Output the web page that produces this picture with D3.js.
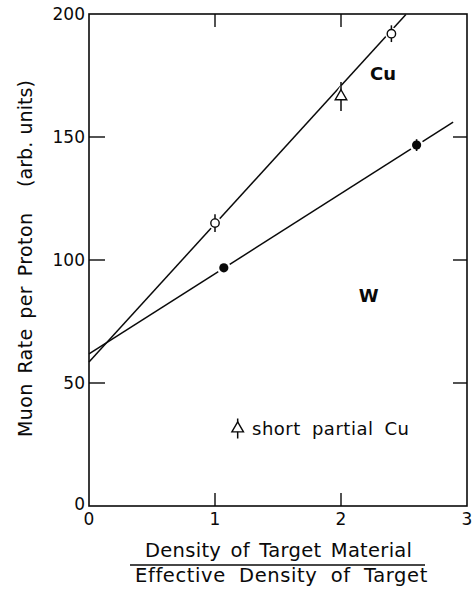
<!DOCTYPE html>
<html>
<head>
<meta charset="utf-8">
<script src="https://cdn.jsdelivr.net/npm/d3@7"></script>
<style>
  html, body { margin: 0; padding: 0; background: #fff; }
  svg { display: block; }
  text { font-family: "DejaVu Sans", "Noto Sans", sans-serif; fill: #0a0a0a; }
</style>
</head>
<body>
<svg id="chart" width="473" height="592"></svg>
<script>
// Measured muon rates (arb. units) vs relative target density
const cuOpen = [ // full-length Cu targets
  { x: 1.00, y: 115.0, err: 3.6 },
  { x: 2.40, y: 192.0, err: 3.4 }
];
const cuShort = [ // short partial Cu target
  { x: 2.00, y: 166.5, err: 5.5 }
];
const wFilled = [ // tungsten targets
  { x: 1.07, y: 96.8, err: 0 },
  { x: 2.60, y: 146.7, err: 2.4 }
];
// Straight-line fits through each material
const fitLines = [
  { name: "Cu", intercept: 58.5, slope: 56.2, xEnd: 2.515, labelX: 2.23, labelY: 173 },
  { name: "W",  intercept: 61.8, slope: 32.6, xEnd: 2.89,  labelX: 2.14, labelY: 83 }
];
const xTicks = [0, 1, 2, 3];
const yTicks = [0, 50, 100, 150, 200];

const svg = d3.select("#chart");
const x = d3.scaleLinear().domain([0, 3]).range([89, 467]);
const y = d3.scaleLinear().domain([0, 200]).range([506, 14]);
const ink = "#0a0a0a";

// Spread a label over the given width: part letter spacing, part word spacing;
// squeeze glyphs if it is already too long
function fitWords(sel, width) {
  const node = sel.node();
  const txt = sel.text();
  const natural = node.getComputedTextLength();
  const gaps = (txt.match(/ /g) || []).length;
  if (natural < width) {
    const extra = width - natural;
    const letterShare = gaps > 0 ? 0.45 : 1;
    const ls = extra * letterShare / Math.max(1, txt.length - 1);
    sel.attr("letter-spacing", ls);
    if (gaps > 0) sel.attr("word-spacing", extra * (1 - letterShare) / gaps);
  } else {
    sel.attr("textLength", width).attr("lengthAdjust", "spacingAndGlyphs");
  }
  return sel;
}

// Frame
svg.append("rect")
  .attr("x", x(0)).attr("y", y(200))
  .attr("width", x(3) - x(0)).attr("height", y(0) - y(200))
  .attr("fill", "none").attr("stroke", ink).attr("stroke-width", 1.6);

// Inward ticks on all four sides
const innerX = xTicks.filter(d => d > 0 && d < 3);
const innerY = yTicks.filter(d => d > 0 && d < 200);
const tickG = svg.append("g").attr("stroke", ink).attr("stroke-width", 1.4);
tickG.selectAll(".tb").data(innerX).join("line")
  .attr("x1", d => x(d)).attr("x2", d => x(d))
  .attr("y1", y(0)).attr("y2", y(0) - 13);
tickG.selectAll(".tt").data(innerX).join("line")
  .attr("x1", d => x(d)).attr("x2", d => x(d))
  .attr("y1", y(200)).attr("y2", y(200) + 13);
tickG.selectAll(".tl").data(innerY).join("line")
  .attr("x1", x(0)).attr("x2", x(0) + 16)
  .attr("y1", d => y(d)).attr("y2", d => y(d));
tickG.selectAll(".tr").data(innerY).join("line")
  .attr("x1", x(3)).attr("x2", x(3) - 14)
  .attr("y1", d => y(d)).attr("y2", d => y(d));

// Tick labels
svg.selectAll(".xl").data(xTicks).join("text")
  .attr("x", d => x(d)).attr("y", 525)
  .attr("text-anchor", "middle").attr("font-size", 17)
  .text(d => d);
svg.selectAll(".yl").data(yTicks).join("text")
  .attr("x", 85).attr("y", d => d === 0 ? y(d) + 4 : y(d) + 6)
  .attr("text-anchor", "end").attr("font-size", 17)
  .text(d => d);

// Fit lines
const lineG = svg.append("g").attr("stroke", ink).attr("stroke-width", 1.5).attr("fill", "none");
lineG.selectAll("line").data(fitLines).join("line")
  .attr("x1", x(0)).attr("y1", d => y(d.intercept))
  .attr("x2", d => x(d.xEnd)).attr("y2", d => y(d.intercept + d.slope * d.xEnd));

svg.selectAll(".fitlabel").data(fitLines).join("text")
  .attr("x", d => x(d.labelX)).attr("y", d => y(d.labelY))
  .attr("font-size", 18).attr("font-weight", 600)
  .text(d => d.name);

// Error bars
function errorBars(data) {
  const g = svg.append("g").attr("stroke", ink).attr("stroke-width", 1.5);
  data.filter(d => d.err > 0).forEach(d => {
    g.append("line").attr("x1", x(d.x)).attr("x2", x(d.x))
      .attr("y1", y(d.y + d.err)).attr("y2", y(d.y - d.err));
  });
}

// Open circles (white halo breaks the fit line around each marker)
svg.append("g").selectAll("circle").data(cuOpen).join("circle")
  .attr("cx", d => x(d.x)).attr("cy", d => y(d.y)).attr("r", 6.5)
  .attr("fill", "#fff");
errorBars(cuOpen);
svg.append("g").selectAll("circle").data(cuOpen).join("circle")
  .attr("cx", d => x(d.x)).attr("cy", d => y(d.y)).attr("r", 4.2)
  .attr("fill", "#fff").attr("stroke", ink).attr("stroke-width", 1.4);

// Filled circles
const wG = svg.append("g");
wG.selectAll(".halo").data(wFilled).join("circle")
  .attr("cx", d => x(d.x)).attr("cy", d => y(d.y)).attr("r", 7)
  .attr("fill", "#fff");
wG.selectAll(".dot").data(wFilled).join("circle")
  .attr("cx", d => x(d.x)).attr("cy", d => y(d.y)).attr("r", 4.6)
  .attr("fill", ink);
wG.selectAll(".bar").data(wFilled.filter(d => d.err > 0)).join("line")
  .attr("x1", d => x(d.x)).attr("x2", d => x(d.x))
  .attr("y1", d => y(d.y + d.err)).attr("y2", d => y(d.y - d.err))
  .attr("stroke", ink).attr("stroke-width", 1.6);

// Triangle marker with error bar
const tri = d3.symbol().type(d3.symbolTriangle).size(58);
function triangleMarker(g, cx, cy, bar) {
  g.append("path").attr("d", tri).attr("transform", `translate(${cx},${cy})`)
    .attr("fill", "#fff").attr("stroke", "#fff").attr("stroke-width", 5);
  g.append("line").attr("x1", cx).attr("x2", cx)
    .attr("y1", cy - bar).attr("y2", cy + bar)
    .attr("stroke", ink).attr("stroke-width", 1.5);
  g.append("path").attr("d", tri).attr("transform", `translate(${cx},${cy})`)
    .attr("fill", "#fff").attr("stroke", ink).attr("stroke-width", 1.4);
}
const triG = svg.append("g");
cuShort.forEach(d => {
  const half = y(d.y - d.err) - y(d.y);
  triangleMarker(triG, x(d.x), y(d.y), half + 1);
});

// Legend entry
const legG = svg.append("g");
triangleMarker(legG, x(1.18), y(31.5), 10);
fitWords(legG.append("text").attr("x", 252).attr("y", 435)
  .attr("font-size", 18).text("short partial Cu"), 157);

// Axis titles
fitWords(svg.append("text")
  .attr("transform", "translate(32,437) rotate(-90)")
  .attr("font-size", 19).text("Muon Rate per Proton"), 224);
fitWords(svg.append("text")
  .attr("transform", "translate(32,187) rotate(-90)")
  .attr("font-size", 19).text("(arb. units)"), 107);

fitWords(svg.append("text").attr("x", 145).attr("y", 557)
  .attr("font-size", 19.5).text("Density of Target Material"), 267);
svg.append("line").attr("x1", 130).attr("x2", 425).attr("y1", 565).attr("y2", 565)
  .attr("stroke", ink).attr("stroke-width", 1.5);
fitWords(svg.append("text").attr("x", 135).attr("y", 582)
  .attr("font-size", 19.5).text("Effective Density of Target"), 292);
</script>
</body>
</html>
